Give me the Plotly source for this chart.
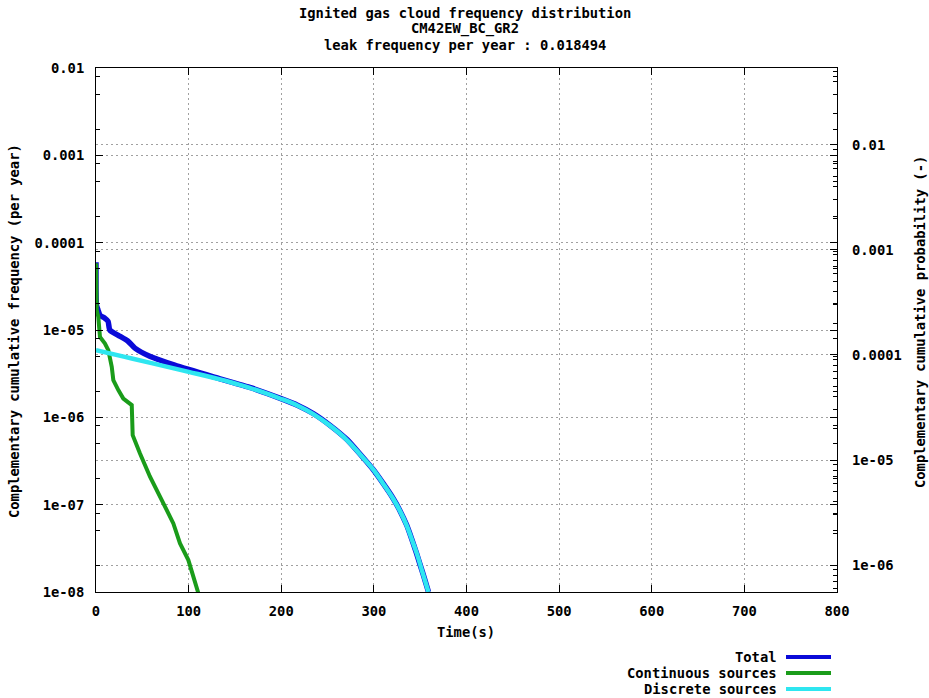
import plotly.graph_objects as go

# ---- data: complementary cumulative frequency (per year) vs time (s) ----
total_t = [0, 0, 0.5, 2.2, 4.3, 9.7, 13, 15, 24, 34.6, 42, 58, 85,
           134, 150, 166, 199, 218, 235, 253, 271, 285, 299, 310, 321, 328,
           335.5, 341, 346, 353, 359]
total_f = [5.97e-5, 2.85e-5, 1.92e-5, 1.69e-5, 1.48e-5, 1.36e-5, 1.26e-5,
           9.95e-6, 8.7e-6, 7.44e-6, 6.2e-6, 5.0e-6, 3.95e-6,
           2.76e-6, 2.46e-6, 2.2e-6, 1.65e-6, 1.37e-6, 1.10e-6, 8.05e-7,
           5.57e-7, 3.8e-7, 2.54e-7, 1.75e-7, 1.17e-7, 8.6e-8,
           5.8e-8, 4.0e-8, 2.78e-8, 1.62e-8, 1.0e-8]

cont_t = [0, 0, 0.8, 2.5, 4.3, 9.7, 13.3, 17, 18.7, 24.1, 29.5, 38.6, 39.6,
          47.5, 58.3, 71, 83.5, 90.7, 99.7, 110.5]
cont_f = [5.8e-5, 2.85e-5, 1.69e-5, 1.41e-5, 8.3e-6, 7.0e-6, 5.87e-6,
          3.79e-6, 2.67e-6, 2.05e-6, 1.64e-6, 1.38e-6, 6.25e-7,
          3.86e-7, 2.09e-7, 1.13e-7, 6.1e-8, 3.6e-8, 2.32e-8, 9.7e-9]

disc_t = [0, 30, 60, 100, 134, 150, 166, 198.7, 218, 234.7, 253, 270.7, 285,
          299.4, 310, 321, 328, 335.5, 341, 346.3, 353, 358.9]
disc_f = [5.87e-6, 4.95e-6, 4.18e-6, 3.32e-6, 2.72e-6, 2.44e-6, 2.18e-6,
          1.644e-6, 1.36e-6, 1.09e-6, 7.98e-7, 5.53e-7, 3.77e-7,
          2.52e-7, 1.74e-7, 1.16e-7, 8.55e-8, 5.77e-8, 3.98e-8, 2.77e-8,
          1.61e-8, 1.0e-8]

series_names = ["Total", "Continuous sources", "Discrete sources"]
series_colors = ["#0a0ad8", "#1a9c1a", "#2ee6f0"]

x_ticks = [0, 100, 200, 300, 400, 500, 600, 700, 800]
y_ticks = [1e-8, 1e-7, 1e-6, 1e-5, 1e-4, 1e-3, 1e-2]
y_ticktext = ["1e-08", "1e-07", "1e-06", "1e-05", "0.0001", "0.001", "0.01"]
y2_ticks = [1e-6, 1e-5, 1e-4, 1e-3, 1e-2]
y2_ticktext = ["1e-06", "1e-05", "0.0001", "0.001", "0.01"]

titles = ["Ignited gas cloud frequency distribution",
          "CM42EW_BC_GR2",
          "leak frequency per year : 0.018494"]

FONT = "DejaVu Sans Mono"
fnt = dict(family=FONT, size=13.8, color="black", weight="bold")

# minor tick positions
y_minor = [m * 10.0 ** e for e in range(-8, -2) for m in (2, 5, 8)]
y2_minor = [m * 10.0 ** e for e in range(-7, -1) for m in range(2, 10)]

fig = go.Figure()
fig.add_trace(go.Scatter(x=total_t, y=total_f, mode="lines", name=series_names[0],
                         line=dict(color=series_colors[0], width=5.5,
                                   shape="spline", smoothing=0.6)))
fig.add_trace(go.Scatter(x=cont_t, y=cont_f, mode="lines", name=series_names[1],
                         line=dict(color=series_colors[1], width=4)))
fig.add_trace(go.Scatter(x=disc_t, y=disc_f, mode="lines", name=series_names[2],
                         line=dict(color=series_colors[2], width=4.5,
                                   shape="spline", smoothing=1.0)))
# empty trace to attach the secondary (probability) axis
fig.add_trace(go.Scatter(x=[], y=[], yaxis="y2", showlegend=False))

grid = dict(showgrid=True, gridcolor="#a0a0a0", gridwidth=1, griddash="2px,3px")

fig.update_layout(
    width=929, height=698,
    margin=dict(l=96, r=92, t=68, b=106),
    paper_bgcolor="white", plot_bgcolor="white",
    showlegend=False,
    font=fnt,
    xaxis=dict(range=[0, 800], tickvals=x_ticks, ticks="inside", ticklen=7,
               tickcolor="black", showline=True, linecolor="black", linewidth=1,
               mirror="ticks", zeroline=False, tickfont=fnt,
               ticklabelstandoff=6, **grid),
    yaxis=dict(type="log", range=[-8, -2], tickvals=y_ticks, ticktext=y_ticktext,
               ticks="inside", ticklen=7, tickcolor="black", showline=True,
               linecolor="black", linewidth=1, mirror="ticks", tickfont=fnt,
               ticklabelstandoff=8,
               minor=dict(tickvals=y_minor, ticks="inside", ticklen=4,
                          tickcolor="black", showgrid=False),
               **grid),
    yaxis2=dict(type="log", range=[-6.257, -1.267], overlaying="y", side="right",
                tickvals=y2_ticks, ticktext=y2_ticktext, ticks="inside",
                ticklen=7, tickcolor="black", showline=False, tickfont=fnt,
                ticklabelstandoff=14,
                minor=dict(tickvals=y2_minor, ticks="inside", ticklen=4,
                           tickcolor="black", showgrid=False),
                **grid),
)

# pixel -> paper coordinate helpers
def px_x(px):
    return (px - 96) / 741.0

def px_y(py):
    return (592 - py) / 524.0

ann = []
for txt, py in zip(titles, [13, 29, 45]):
    ann.append(dict(text=txt, x=px_x(465), y=px_y(py), xref="paper", yref="paper",
                    xanchor="center", yanchor="middle", showarrow=False, font=fnt))
ann.append(dict(text="Time(s)", x=px_x(466), y=px_y(632), xref="paper", yref="paper",
                xanchor="center", yanchor="middle", showarrow=False, font=fnt))
ann.append(dict(text="Complementary cumulative frequency (per year)", textangle=-90,
                x=px_x(14), y=px_y(331), xref="paper", yref="paper",
                xanchor="center", yanchor="middle", showarrow=False, font=fnt))
ann.append(dict(text="Complementary cumulative probability (-)", textangle=-90,
                x=px_x(920), y=px_y(322), xref="paper", yref="paper",
                xanchor="center", yanchor="middle", showarrow=False, font=fnt))

# legend block at the bottom right: text right-aligned, sample line to its right
shapes = []
for name, col, py in zip(series_names, series_colors, [657, 673, 689]):
    ann.append(dict(text=name, x=px_x(779), y=px_y(py), xref="paper", yref="paper",
                    xanchor="right", yanchor="middle", showarrow=False, font=fnt))
    shapes.append(dict(type="line", xref="paper", yref="paper",
                       x0=px_x(786), x1=px_x(831), y0=px_y(py), y1=px_y(py),
                       line=dict(color=col, width=4)))

fig.update_layout(annotations=ann, shapes=shapes)
fig.write_html("out.html")
